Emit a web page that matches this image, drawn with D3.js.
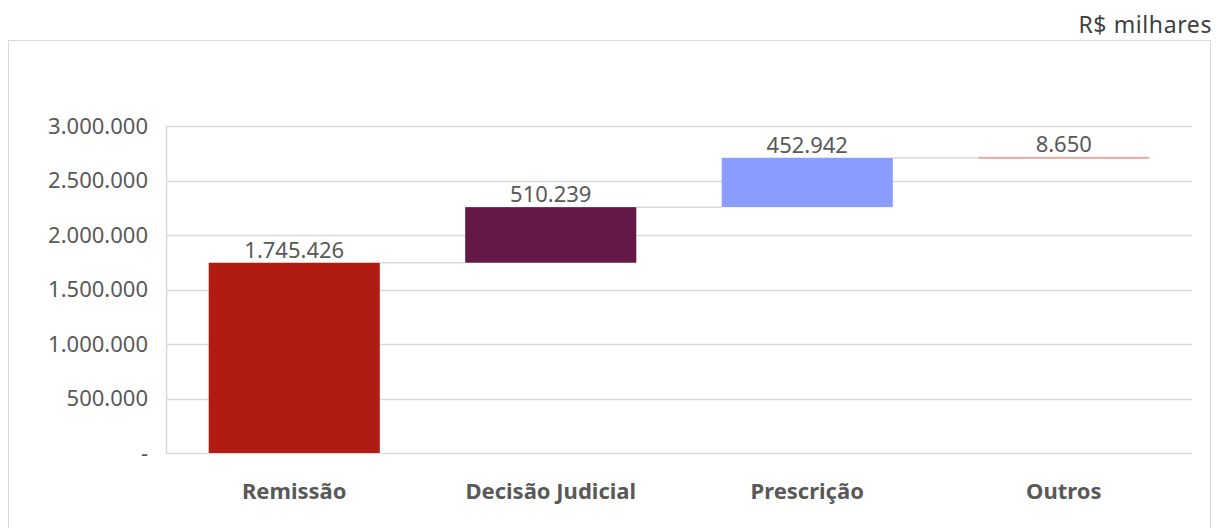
<!DOCTYPE html>
<html>
<head>
<meta charset="utf-8">
<script src="https://cdn.jsdelivr.net/npm/d3@7"></script>
<style>
  body { margin: 0; background: #fff; }
  svg text { font-family: "Segoe UI", "Noto Sans", "Open Sans", sans-serif; }
</style>
</head>
<body>
<div id="vis"></div>
<script>
// data
var categories = ['Remissão', 'Decisão Judicial', 'Prescrição', 'Outros'];
var values = [1745426, 510239, 452942, 8650];
var barColors = ['#b01c11', '#641846', '#8a9cff', '#e8a9a2'];
var yTicks = [0, 500000, 1000000, 1500000, 2000000, 2500000, 3000000];
var unitLabel = 'R$ milhares';

var width = 1221, height = 528;
var margin = { left: 166, top: 126, right: 29, bottom: 75 };

var fmt = function(v)
{
    if(v === 0) return '-';
    return d3.format(',')(v).replace(/,/g, '.');
};

var svg = d3.select('#vis')
    .append('svg')
        .attr('width', width)
        .attr('height', height);

// outer frame
svg.append('rect')
    .attr('x', 8.5).attr('y', 40.5)
    .attr('width', 1202).attr('height', 500)
    .attr('fill', 'none')
    .attr('stroke', '#d9d9d9');

svg.append('text')
    .attr('x', 1212).attr('y', 33)
    .attr('text-anchor', 'end')
    .attr('font-size', 23)
    .attr('letter-spacing', 0.6)
    .attr('fill', '#404040')
    .text(unitLabel);

var x = d3.scaleBand()
    .domain(categories)
    .range([margin.left, width - margin.right])
    .paddingInner(0.333)
    .paddingOuter(0.1665);

var y = d3.scaleLinear()
    .domain([0, 3000000])
    .range([height - margin.bottom, margin.top]);

// running totals
var steps = [];
var acc = 0;
values.forEach(function(v, i)
{
    steps.push({ cat: categories[i], value: v, start: acc, end: acc + v, color: barColors[i] });
    acc += v;
});

// gridlines
svg.append('g')
    .selectAll('line')
    .data(yTicks)
    .enter()
    .append('line')
        .attr('x1', margin.left).attr('x2', width - margin.right)
        .attr('y1', function(d) { return Math.round(y(d)) + 0.5; })
        .attr('y2', function(d) { return Math.round(y(d)) + 0.5; })
        .attr('stroke', '#d9d9d9')
        .attr('stroke-width', 1.5);

// y axis
var yAxis = svg.append('g')
    .attr('transform', 'translate(' + margin.left + ',0)')
    .call(d3.axisLeft(y).tickValues(yTicks).tickFormat(fmt).tickSize(0).tickPadding(18));
yAxis.select('.domain').attr('stroke', '#d9d9d9').attr('stroke-width', 1.5);
yAxis.selectAll('text')
    .attr('font-size', 22)
    .attr('fill', '#595959');

// x axis labels
svg.append('g')
    .selectAll('text')
    .data(categories)
    .enter()
    .append('text')
        .attr('x', function(d) { return x(d) + x.bandwidth() / 2; })
        .attr('y', 499)
        .attr('text-anchor', 'middle')
        .attr('font-size', 22)
        .attr('font-weight', 'bold')
        .attr('fill', '#595959')
        .text(function(d) { return d; });

// connectors
svg.append('g')
    .selectAll('line')
    .data(steps.slice(0, steps.length - 1))
    .enter()
    .append('line')
        .attr('x1', function(d) { return x(d.cat) + x.bandwidth(); })
        .attr('x2', function(d, i) { return x(categories[i + 1]); })
        .attr('y1', function(d) { return y(d.end); })
        .attr('y2', function(d) { return y(d.end); })
        .attr('stroke', '#d9d9d9')
        .attr('stroke-width', 1.5);

// bars
svg.append('g')
    .selectAll('rect')
    .data(steps)
    .enter()
    .append('rect')
        .attr('x', function(d) { return x(d.cat); })
        .attr('width', x.bandwidth())
        .attr('y', function(d) { return y(d.end); })
        .attr('height', function(d) { return Math.max(2, y(d.start) - y(d.end)); })
        .attr('fill', function(d) { return d.color; });

// value labels
svg.append('g')
    .selectAll('text')
    .data(steps)
    .enter()
    .append('text')
        .attr('x', function(d) { return x(d.cat) + x.bandwidth() / 2; })
        .attr('y', function(d) { return y(d.end) - 5; })
        .attr('text-anchor', 'middle')
        .attr('font-size', 22)
        .attr('fill', '#595959')
        .text(function(d) { return fmt(d.value); });
</script>
</body>
</html>
